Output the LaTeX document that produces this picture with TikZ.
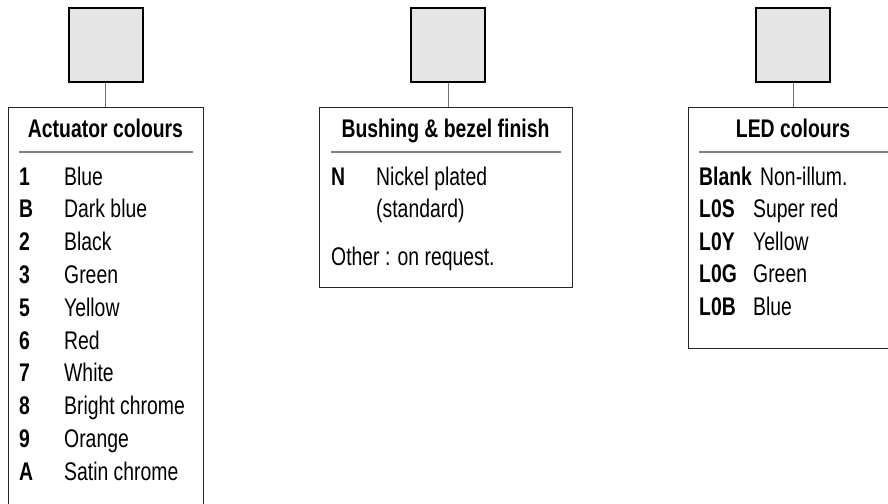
\documentclass[tikz,border=0pt]{standalone}
\usepackage{fontspec}
\setmainfont[FakeStretch=0.76, BoldFeatures={FakeStretch=0.76}]{Liberation Sans}
\begin{document}
\begin{tikzpicture}[x=1pt, y=-1pt,
        font=\fontsize{25.5}{30}\selectfont,
        keycap/.style={draw, line width=2pt, fill=black!10, minimum width=74pt, minimum height=73pt, inner sep=0pt},
        panel/.style={draw=black!85, line width=1pt, anchor=north west, inner sep=0pt},
        lead/.style={draw=black!55, line width=1pt},
        rule/.style={draw=black!50, line width=1.4pt},
        title/.style={font=\fontsize{25.5}{30}\selectfont\bfseries, anchor=base, inner sep=0pt},
        code/.style={font=\fontsize{25.5}{30}\selectfont\bfseries, anchor=base west, inner sep=0pt},
        entry/.style={anchor=base west, inner sep=0pt}]
    \useasboundingbox (0,0) rectangle (888,503);
    \clip (0,0) rectangle (888,503);

    % keycaps
    \node[keycap] (cap1) at (105.5,45) {};
    \node[keycap] (cap2) at (448,45) {};
    \node[keycap] (cap3) at (793,45) {};

    % panels
    \node[panel, minimum width=195pt, minimum height=410pt] (box1) at (8,107) {};
    \node[panel, minimum width=253pt, minimum height=180pt] (box2) at (319,107) {};
    \node[panel, minimum width=230pt, minimum height=241pt] (box3) at (688,107) {};

    \draw[lead] (cap1.south) -- (cap1.south |- box1.north);
    \draw[lead] (cap2.south) -- (cap2.south |- box2.north);
    \draw[lead] (cap3.south) -- (cap3.south |- box3.north);

    % actuator colours
    \node[title] (head1) at (105.5,137) {Actuator colours};
    \draw[rule] (19,152) -- (193,152);
    \foreach \key/\val [count=\i from 0] in {1/Blue, B/Dark blue, 2/Black, 3/Green, 5/Yellow,
            6/Red, 7/White, 8/Bright chrome, 9/Orange, A/Satin chrome} {
        \node[code] (act\i) at (19, {185+32.8*\i}) {\key};
        \node[entry] (actv\i) at (64, {185+32.8*\i}) {\val};
    }

    % bushing & bezel finish
    \node[title] (head2) at (445.5,137) {Bushing \& bezel finish};
    \draw[rule] (331,152) -- (561,152);
    \node[code] (fin) at (331,185) {N};
    \node[entry] (finv) at (376,185) {Nickel plated};
    \node[entry] (finw) at (376,217.5) {(standard)};
    \node[entry] (other) at (331,265) {Other : on request.};

    % LED colours
    \node[title] (head3) at (793,137) {LED colours};
    \draw[rule] (699,152) -- (900,152);
    \foreach \key/\val/\vx [count=\i from 0] in {Blank/Non-illum./760, L0S/Super red/753,
            L0Y/Yellow/753, L0G/Green/753, L0B/Blue/753} {
        \node[code] (led\i) at (699, {185+32.5*\i}) {\key};
        \node[entry] (ledv\i) at (\vx, {185+32.5*\i}) {\val};
    }
\end{tikzpicture}
\end{document}
